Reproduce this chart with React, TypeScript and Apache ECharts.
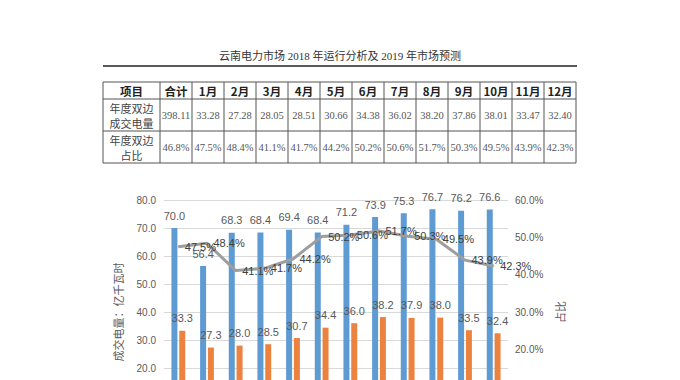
import React, { useEffect, useRef } from "react";
import * as echarts from "echarts";

const titleText = "云南电力市场 2018 年运行分析及 2019 年市场预测";
const months = ["1月", "2月", "3月", "4月", "5月", "6月", "7月", "8月", "9月", "10月", "11月", "12月"];
const headerCells = ["项目", "合计", ...months];
const volumeRowLabel = ["年度双边", "成交电量"];
const volumeTotal = "398.11";
const volumeValues = ["33.28", "27.28", "28.05", "28.51", "30.66", "34.38", "36.02", "38.20", "37.86", "38.01", "33.47", "32.40"];
const shareRowLabel = ["年度双边", "占比"];
const shareTotal = "46.8%";
const shareValues = ["47.5%", "48.4%", "41.1%", "41.7%", "44.2%", "50.2%", "50.6%", "51.7%", "50.3%", "49.5%", "43.9%", "42.3%"];

// chart series
const totalVolume = [70.0, 56.4, 68.3, 68.4, 69.4, 68.4, 71.2, 73.9, 75.3, 76.7, 76.2, 76.6];
const bilateralVolume = [33.3, 27.3, 28.0, 28.5, 30.7, 34.4, 36.0, 38.2, 37.9, 38.0, 33.5, 32.4];
const bilateralShare = [47.5, 48.4, 41.1, 41.7, 44.2, 50.2, 50.6, 51.7, 50.3, 49.5, 43.9, 42.3];

const leftAxisName = "成交电量：亿千瓦时";
const rightAxisName = "占比";

const sans = '"Liberation Sans", "Noto Sans CJK SC", sans-serif';
const serif = '"Liberation Serif", "Noto Sans CJK SC", serif';
const cjk = '"Noto Sans CJK SC", sans-serif';

function buildTable(): any[] {
  const els: any[] = [];
  const x0 = 103;
  const firstW = 57;
  const colW = 32;
  const nCols = headerCells.length;
  const edges: number[] = [x0];
  for (let i = 0; i < nCols; i++) edges.push(x0 + firstW + i * colW);
  const xEnd = edges[edges.length - 1];
  const rows = [82, 99, 131, 163];
  rows.forEach((y) =>
    els.push({ type: "line", shape: { x1: x0, y1: y, x2: xEnd, y2: y }, style: { stroke: "#555", lineWidth: 1 } })
  );
  edges.forEach((x) =>
    els.push({ type: "line", shape: { x1: x, y1: rows[0], x2: x, y2: rows[3] }, style: { stroke: "#555", lineWidth: 1 } })
  );
  const cx = (i: number) => (i === 0 ? x0 + firstW / 2 : edges[i] + colW / 2);
  const cy = (r: number) => (rows[r] + rows[r + 1]) / 2;
  headerCells.forEach((t, i) =>
    els.push({
      type: "text",
      x: cx(i),
      y: cy(0),
      style: { text: t, fontFamily: cjk, fontWeight: "bold", fontSize: 11.5, fill: "#222", align: "center", verticalAlign: "middle" },
    })
  );
  const rowsData: [string[], string, string[]][] = [
    [volumeRowLabel, volumeTotal, volumeValues],
    [shareRowLabel, shareTotal, shareValues],
  ];
  rowsData.forEach(([label, total, vals], r) => {
    label.forEach((line, k) =>
      els.push({
        type: "text",
        x: cx(0),
        y: cy(r + 1) + (k === 0 ? -7.5 : 7.5),
        style: { text: line, fontFamily: cjk, fontSize: 11, fill: "#444", align: "center", verticalAlign: "middle" },
      })
    );
    [total, ...vals].forEach((t, i) =>
      els.push({
        type: "text",
        x: cx(i + 1),
        y: cy(r + 1),
        style: { text: t, fontFamily: serif, fontSize: 10.5, fill: "#555", align: "center", verticalAlign: "middle" },
      })
    );
  });
  return els;
}

export default function App() {
  const ref = useRef<HTMLDivElement>(null);
  useEffect(() => {
    if (!ref.current) return;
    const chart = echarts.init(ref.current, null, { renderer: "svg" });
    chart.setOption({
      animation: false,
      backgroundColor: "#fff",
      graphic: [
        {
          type: "text",
          x: 340,
          y: 56,
          style: { text: titleText, fontFamily: serif, fontSize: 11, fill: "#333", align: "center", verticalAlign: "middle" },
        },
        { type: "line", shape: { x1: 103, y1: 66, x2: 577, y2: 66 }, style: { stroke: "#222", lineWidth: 1.5 } },
        ...buildTable(),
      ],
      grid: { left: 164, right: 172, top: 200, bottom: 46 },
      xAxis: {
        type: "category",
        data: months,
        axisLabel: { show: false },
        axisTick: { show: false },
        axisLine: { lineStyle: { color: "#d9d9d9" } },
      },
      yAxis: [
        {
          type: "value",
          min: 0,
          max: 80,
          interval: 10,
          name: leftAxisName,
          nameLocation: "middle",
          nameGap: 41,
          nameRotate: 90,
          nameTextStyle: { fontFamily: cjk, fontSize: 11, color: "#595959" },
          axisLabel: { formatter: (v: number) => v.toFixed(1), fontFamily: sans, fontSize: 10, color: "#595959", margin: 8 },
          splitLine: { lineStyle: { color: "#d9d9d9" } },
          axisLine: { show: false },
          axisTick: { show: false },
        },
        {
          type: "value",
          min: 0,
          max: 60,
          interval: 10,
          name: rightAxisName,
          nameLocation: "middle",
          nameGap: 38,
          nameRotate: 90,
          nameTextStyle: { fontFamily: cjk, fontSize: 11, color: "#595959" },
          axisLabel: { formatter: (v: number) => v.toFixed(1) + "%", fontFamily: sans, fontSize: 10, color: "#595959", margin: 7 },
          splitLine: { show: false },
          axisLine: { show: false },
          axisTick: { show: false },
        },
      ],
      series: [
        {
          type: "bar",
          data: totalVolume,
          barWidth: 6,
          barGap: "30%",
          itemStyle: { color: "#5f9bd3" },
          label: { show: true, position: "top", distance: 7, formatter: (p: any) => p.value.toFixed(1), fontFamily: sans, fontSize: 11, color: "#595959" },
        },
        {
          type: "bar",
          data: bilateralVolume,
          barWidth: 6,
          itemStyle: { color: "#ec8240" },
          label: { show: true, position: "top", distance: 7, formatter: (p: any) => p.value.toFixed(1), fontFamily: sans, fontSize: 11, color: "#595959" },
        },
        {
          type: "line",
          yAxisIndex: 1,
          data: bilateralShare,
          symbol: "circle",
          symbolSize: 1,
          lineStyle: { color: "#9e9e9e", width: 3 },
          itemStyle: { color: "#9e9e9e" },
          label: { show: true, position: "right", distance: 6, formatter: (p: any) => p.value.toFixed(1) + "%", fontFamily: sans, fontSize: 11, color: "#404040" },
        },
      ],
    });
    return () => chart.dispose();
  }, []);
  return (
    <div style={{ position: "absolute", left: 0, top: 0, width: 680, height: 380, overflow: "hidden", background: "#fff" }}>
      <div ref={ref} style={{ width: 680, height: 470 }} />
    </div>
  );
}
